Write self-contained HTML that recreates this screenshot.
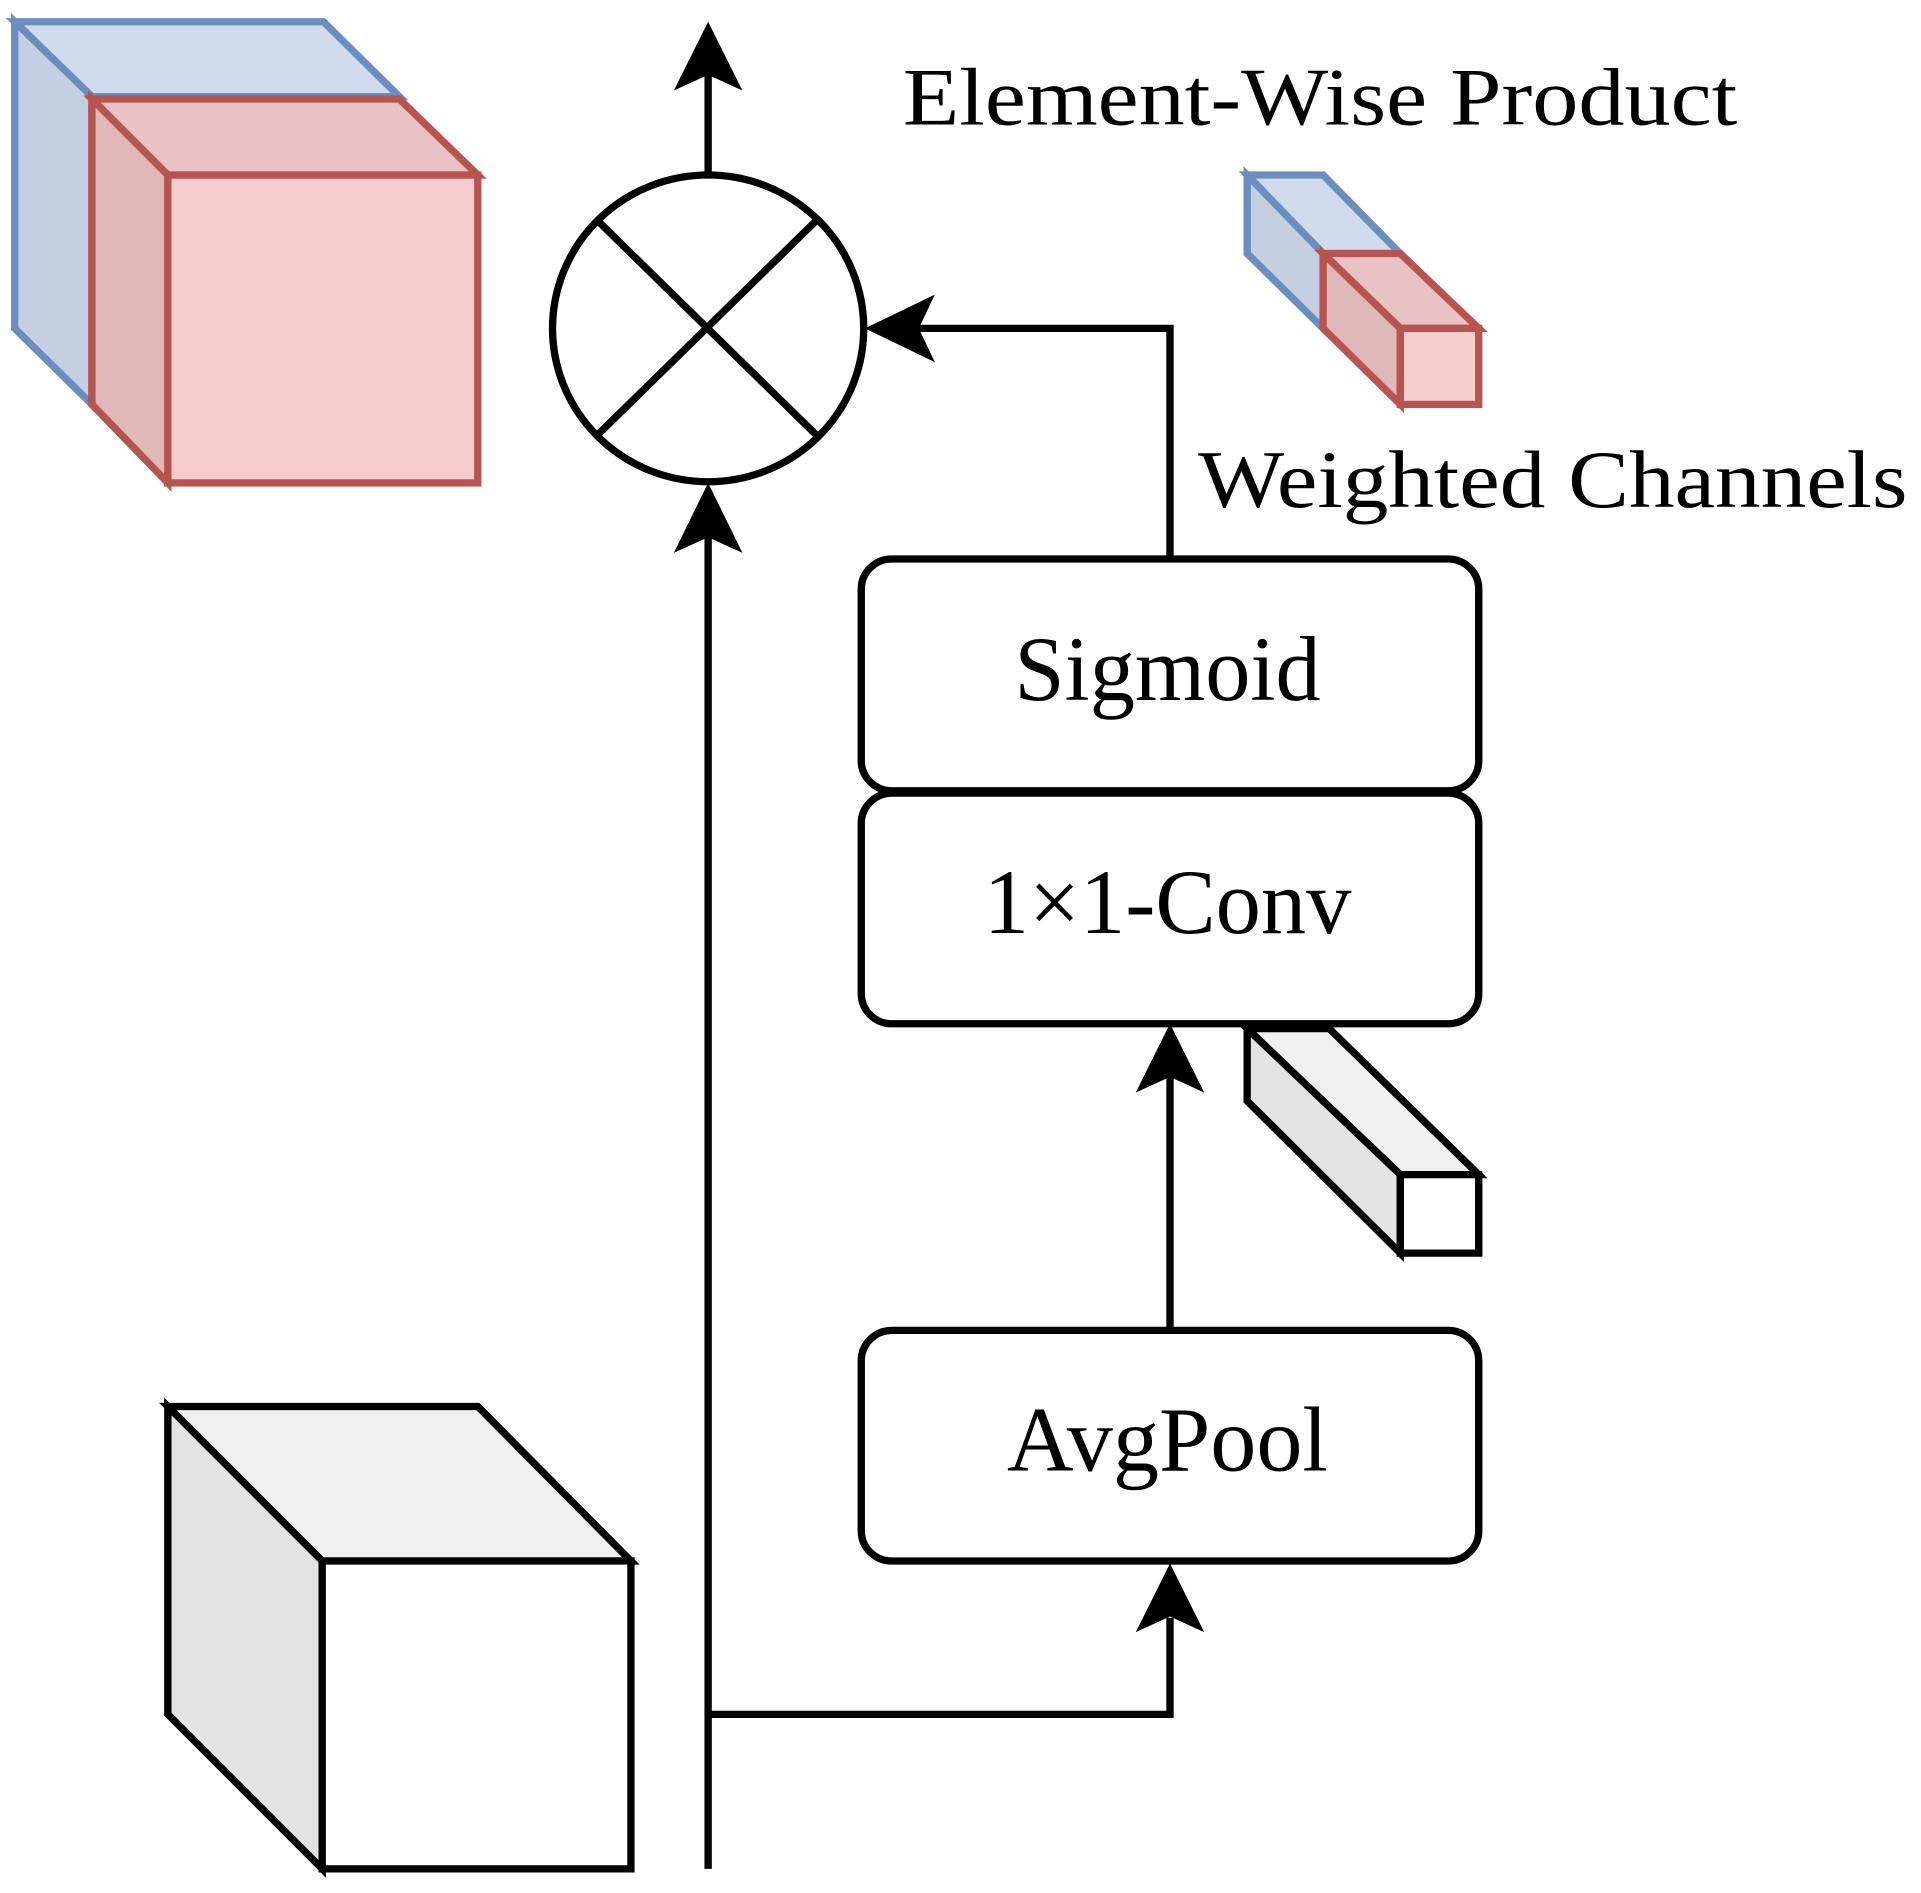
<!DOCTYPE html>
<html><head><meta charset="utf-8"><style>
html,body{margin:0;padding:0;background:#fff;}
svg{display:block;}
text{font-family:"Liberation Serif",serif;fill:#000;}
</style></head><body>
<svg width="1921" height="1893" viewBox="0 0 1568 1568" preserveAspectRatio="none" xmlns="http://www.w3.org/2000/svg">
<g stroke-width="6" stroke-linejoin="miter">
<g stroke="#6c8ebf">
<polygon points="12,18 264,18 326,80 75,80" fill="#d0dcee"/>
<polygon points="12,18 75,80 75,335 12,272" fill="#c4cfe1"/>
</g>
<g stroke="#b85450">
<polygon points="75,82 326,82 390,145 137,145" fill="#e9c3c3"/>
<polygon points="75,82 137,145 137,400 75,335" fill="#dfb8b8"/>
<rect x="137" y="145" width="253" height="255" fill="#f5cdcc"/>
</g>
<g stroke="#6c8ebf">
<polygon points="1018,145 1080,145 1143,210 1080,210" fill="#d0dcee"/>
<polygon points="1018,145 1080,210 1080,272 1018,210" fill="#c4cfe1"/>
</g>
<g stroke="#b85450">
<polygon points="1080,210 1143,210 1207,272 1143,272" fill="#e9c3c3"/>
<polygon points="1080,210 1143,272 1143,335 1080,272" fill="#dfb8b8"/>
<rect x="1143" y="272" width="64" height="63" fill="#f5cdcc"/>
</g>
<g stroke="#000">
<polygon points="1018,852 1085,852 1207,973 1143,973" fill="#f0f0f0"/>
<polygon points="1018,852 1143,973 1143,1038 1018,912" fill="#e3e3e3"/>
<rect x="1143" y="973" width="64" height="65" fill="#fff"/>
</g>
<g stroke="#000">
<polygon points="137,1165 390,1165 515,1293 263,1293" fill="#f0f0f0"/>
<polygon points="137,1165 263,1293 263,1548 137,1420" fill="#e3e3e3"/>
<rect x="263" y="1293" width="252" height="255" fill="#fff"/>
</g>
<circle cx="578" cy="272" r="127" fill="#fff" stroke="#000"/>
<line x1="488" y1="183" x2="666" y2="360" stroke="#000"/>
<line x1="666" y1="183" x2="488" y2="360" stroke="#000"/>
<g stroke="#000" fill="none">
<line x1="578" y1="145" x2="578" y2="60"/>
<line x1="578" y1="1548" x2="578" y2="440"/>
<polyline points="578,1420 955,1420 955,1340"/>
<line x1="955" y1="1102" x2="955" y2="890"/>
<polyline points="955,463 955,272 750,272"/>
</g>
<g fill="#000" stroke="none">
<polygon points="578,18 550,75 578,62 606,75"/>
<polygon points="578,400 550,458 578,445 606,458"/>
<polygon points="955,1295 927,1352 955,1339 983,1352"/>
<polygon points="955,848 927,905 955,892 983,905"/>
<polygon points="706,272 763,244 750,272 763,300"/>
</g>
<g stroke="#000" fill="#fff">
<rect x="703" y="463" width="504" height="192" rx="25"/>
<rect x="703" y="657" width="504" height="191" rx="25"/>
<rect x="703" y="1102" width="504" height="191" rx="25"/>
</g>
</g>
<text x="737" y="103" font-size="68" textLength="681" lengthAdjust="spacingAndGlyphs">Element-Wise Product</text>
<text x="978" y="420" font-size="68" textLength="579" lengthAdjust="spacingAndGlyphs">Weighted Channels</text>
<text x="953" y="580" font-size="76" text-anchor="middle" textLength="250" lengthAdjust="spacingAndGlyphs">Sigmoid</text>
<text x="953" y="773" font-size="76" text-anchor="middle" textLength="300" lengthAdjust="spacingAndGlyphs">1×1-Conv</text>
<text x="953" y="1218" font-size="76" text-anchor="middle" textLength="262" lengthAdjust="spacingAndGlyphs">AvgPool</text>
</svg>
</body></html>
